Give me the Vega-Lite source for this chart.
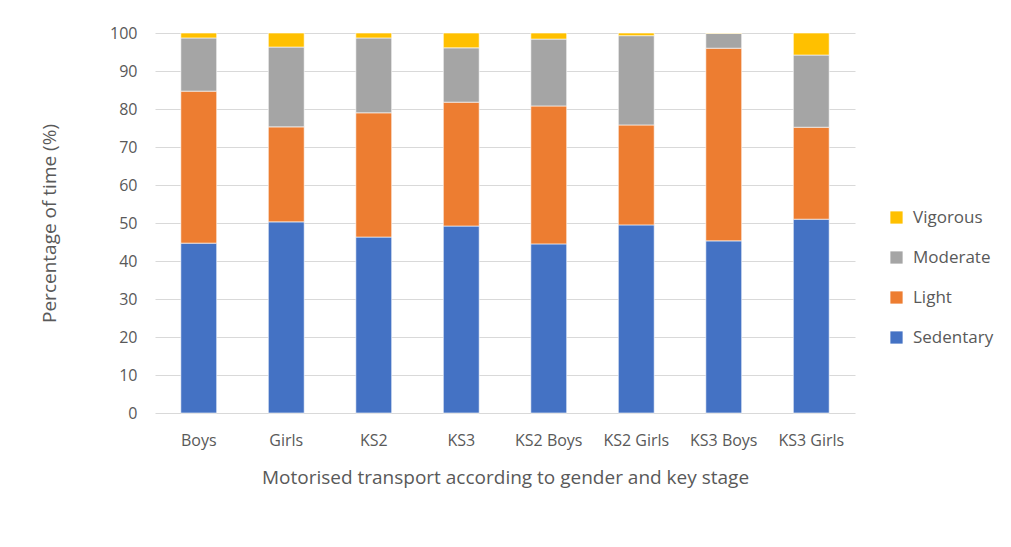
{
  "$schema": "https://vega.github.io/schema/vega-lite/v6.json",
  "width": 700,
  "height": 380,
  "autosize": {"type": "none"},
  "padding": {"left": 155, "top": 33, "right": 156, "bottom": 134},
  "background": "white",
  "data": {"values": [
    {"group": "Boys", "level": "Sedentary", "o": 1, "value": 44.7},
    {"group": "Boys", "level": "Light", "o": 2, "value": 40.0},
    {"group": "Boys", "level": "Moderate", "o": 3, "value": 14.0},
    {"group": "Boys", "level": "Vigorous", "o": 4, "value": 1.3},
    {"group": "Girls", "level": "Sedentary", "o": 1, "value": 50.3},
    {"group": "Girls", "level": "Light", "o": 2, "value": 25.0},
    {"group": "Girls", "level": "Moderate", "o": 3, "value": 21.0},
    {"group": "Girls", "level": "Vigorous", "o": 4, "value": 3.7},
    {"group": "KS2", "level": "Sedentary", "o": 1, "value": 46.3},
    {"group": "KS2", "level": "Light", "o": 2, "value": 32.7},
    {"group": "KS2", "level": "Moderate", "o": 3, "value": 19.7},
    {"group": "KS2", "level": "Vigorous", "o": 4, "value": 1.3},
    {"group": "KS3", "level": "Sedentary", "o": 1, "value": 49.2},
    {"group": "KS3", "level": "Light", "o": 2, "value": 32.6},
    {"group": "KS3", "level": "Moderate", "o": 3, "value": 14.3},
    {"group": "KS3", "level": "Vigorous", "o": 4, "value": 3.9},
    {"group": "KS2 Boys", "level": "Sedentary", "o": 1, "value": 44.5},
    {"group": "KS2 Boys", "level": "Light", "o": 2, "value": 36.3},
    {"group": "KS2 Boys", "level": "Moderate", "o": 3, "value": 17.6},
    {"group": "KS2 Boys", "level": "Vigorous", "o": 4, "value": 1.6},
    {"group": "KS2 Girls", "level": "Sedentary", "o": 1, "value": 49.5},
    {"group": "KS2 Girls", "level": "Light", "o": 2, "value": 26.3},
    {"group": "KS2 Girls", "level": "Moderate", "o": 3, "value": 23.5},
    {"group": "KS2 Girls", "level": "Vigorous", "o": 4, "value": 0.7},
    {"group": "KS3 Boys", "level": "Sedentary", "o": 1, "value": 45.3},
    {"group": "KS3 Boys", "level": "Light", "o": 2, "value": 50.7},
    {"group": "KS3 Boys", "level": "Moderate", "o": 3, "value": 3.9},
    {"group": "KS3 Boys", "level": "Vigorous", "o": 4, "value": 0.1},
    {"group": "KS3 Girls", "level": "Sedentary", "o": 1, "value": 51.0},
    {"group": "KS3 Girls", "level": "Light", "o": 2, "value": 24.2},
    {"group": "KS3 Girls", "level": "Moderate", "o": 3, "value": 19.0},
    {"group": "KS3 Girls", "level": "Vigorous", "o": 4, "value": 5.8}
  ]},
  "mark": {"type": "bar", "stroke": "white", "strokeWidth": 0.6},
  "encoding": {
    "x": {
      "field": "group", "type": "nominal", "sort": null,
      "scale": {"paddingInner": 0.59, "paddingOuter": 0.295},
      "axis": {
        "title": "Motorised transport according to gender and key stage",
        "labelAngle": 0, "labelFontSize": 16, "labelColor": "#595959", "labelPadding": 19,
        "titleFontSize": 19, "titleColor": "#595959", "titleFontWeight": "normal", "titlePadding": 20,
        "ticks": false, "domain": false, "grid": false
      }
    },
    "y": {
      "field": "value", "type": "quantitative", "stack": "zero",
      "scale": {"domain": [0, 100], "nice": false},
      "axis": {
        "title": "Percentage of time (%)", "values": [0,10,20,30,40,50,60,70,80,90,100],
        "labelFontSize": 16, "labelColor": "#595959", "labelPadding": 18,
        "titleFontSize": 19, "titleColor": "#595959", "titleFontWeight": "normal", "titlePadding": 50,
        "ticks": false, "domain": false, "gridColor": "#d9d9d9", "gridWidth": 1
      }
    },
    "color": {
      "field": "level", "type": "nominal",
      "scale": {"domain": ["Vigorous", "Moderate", "Light", "Sedentary"], "range": ["#ffc000", "#a5a5a5", "#ed7d31", "#4472c4"]},
      "legend": {
        "title": null, "orient": "none", "legendX": 733, "legendY": 176,
        "symbolType": "square", "symbolSize": 150, "symbolStrokeWidth": 0,
        "labelFontSize": 17, "labelColor": "#595959", "rowPadding": 22, "labelOffset": 8
      }
    },
    "order": {"field": "o", "type": "quantitative"}
  },
  "config": {
    "font": "Open Sans",
    "view": {"stroke": null}
  }
}
